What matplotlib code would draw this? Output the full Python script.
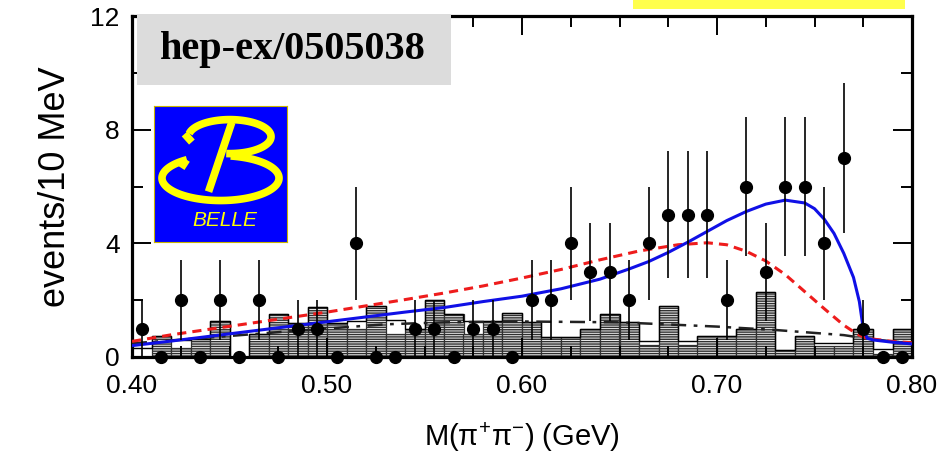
import matplotlib
matplotlib.use('Agg')
import matplotlib.pyplot as plt
from matplotlib.patches import Rectangle
import numpy as np

# --- data (10 MeV bins, 0.40 - 0.80 GeV) ---
bin_edges = np.round(np.arange(0.40, 0.8001, 0.01), 3)
bin_centers = bin_edges[:-1] + 0.005

# events per bin (data points)
counts = [1, 0, 2, 0, 2, 0, 2, 0, 1, 1,
          0, 4, 0, 0, 1, 1, 0, 1, 1, 0,
          2, 2, 4, 3, 3, 2, 4, 5, 5, 5,
          2, 6, 3, 6, 6, 4, 7, 1, 0, 0]

# hatched background histogram
bkg_hist = [0.0, 0.75, 0.3, 0.65, 1.25, 0.0, 0.8, 1.5, 1.2, 1.75,
            1.2, 1.0, 1.8, 0.8, 1.0, 2.0, 1.5, 0.8, 1.25, 1.55,
            1.24, 0.72, 0.72, 1.0, 1.5, 1.24, 0.42, 1.78, 0.42, 0.74,
            0.74, 1.0, 2.28, 0.25, 0.75, 0.4, 0.4, 1.0, 0.12, 1.0]
# open outline histogram (only differs where white boxes show)
outline_hist = [0.3, 0.75, 0.6, 0.65, 1.25, 0.0, 0.8, 1.5, 1.2, 1.75,
                1.2, 1.28, 1.8, 1.3, 1.0, 2.0, 1.5, 1.25, 1.25, 1.55,
                1.24, 0.72, 0.72, 1.0, 1.5, 1.24, 0.55, 1.78, 0.55, 0.74,
                0.74, 1.0, 2.28, 0.25, 0.75, 0.5, 0.5, 1.0, 0.27, 1.0]

# fit curves
blue_x = [0.40, 0.42, 0.44, 0.46, 0.48, 0.50, 0.52, 0.54, 0.56, 0.58, 0.60,
          0.62, 0.64, 0.655, 0.665, 0.675, 0.685, 0.695, 0.705, 0.715, 0.725,
          0.735, 0.745, 0.750, 0.755, 0.760, 0.765, 0.770, 0.773, 0.775,
          0.777, 0.78, 0.79, 0.80]
blue_y = [0.40, 0.56, 0.73, 0.90, 1.07, 1.24, 1.41, 1.58, 1.74, 1.95, 2.14,
          2.40, 2.74, 3.10, 3.36, 3.68, 4.04, 4.42, 4.80, 5.12, 5.38,
          5.52, 5.42, 5.22, 4.85, 4.35, 3.65, 2.8, 1.95, 1.0,
          0.66, 0.6, 0.52, 0.46]

red_x = [0.40, 0.42, 0.44, 0.46, 0.48, 0.50, 0.52, 0.54, 0.56, 0.58, 0.60,
         0.62, 0.64, 0.66, 0.68, 0.695, 0.705, 0.715, 0.725, 0.735, 0.745,
         0.755, 0.765, 0.772, 0.776, 0.78, 0.79, 0.80]
red_y = [0.55, 0.78, 0.98, 1.18, 1.38, 1.58, 1.8, 2.02, 2.25, 2.5, 2.78,
         3.08, 3.42, 3.73, 3.95, 4.02, 3.95, 3.72, 3.38, 2.9, 2.3,
         1.7, 1.12, 0.8, 0.68, 0.63, 0.55, 0.5]

bkg_x = [0.40, 0.45, 0.48, 0.50, 0.53, 0.56, 0.60, 0.65, 0.70, 0.73, 0.765, 0.78, 0.80]
bkg_y = [0.48, 0.74, 0.9, 1.0, 1.15, 1.22, 1.25, 1.22, 1.07, 0.95, 0.77, 0.62, 0.48]

plt.rcParams['font.family'] = ['Liberation Sans', 'DejaVu Sans']
plt.rcParams['hatch.linewidth'] = 1.0

fig = plt.figure(figsize=(9.53, 4.54), dpi=100)
ax = fig.add_axes([132 / 953, 1 - 357 / 454, 780 / 953, 341 / 454])

# histograms
ax.bar(bin_edges[:-1], bkg_hist, width=0.01, align='edge', facecolor='#ececec',
       edgecolor='#303030', hatch='-------', linewidth=0.9, zorder=1)
ax.stairs(outline_hist, bin_edges, color='black', linewidth=1.0, zorder=1.5)

# curves
ax.plot(bkg_x, bkg_y, color='#222222', lw=1.8, dashes=(6, 3, 1.5, 3), zorder=3)
ax.plot(red_x, red_y, color='#ee1c1c', lw=2.2, dashes=(3, 2), zorder=3)
ax.plot(blue_x, blue_y, color='#1010e6', lw=2.2, zorder=3.5)

# data points with sqrt(N) errors
counts = np.array(counts, dtype=float)
err = np.sqrt(counts)
ax.vlines(bin_centers, counts - err, counts + err, color='black', lw=1.2, zorder=4)
ax.plot(bin_centers, counts, 'o', color='black', markersize=8.5, zorder=5, clip_on=False)

ax.set_xlim(0.40, 0.80)
ax.set_ylim(0, 12)
ax.set_xticks([0.40, 0.50, 0.60, 0.70, 0.80])
ax.set_xticklabels(['0.40', '0.50', '0.60', '0.70', '0.80'])
ax.set_xticks(np.arange(0.40, 0.80, 0.025), minor=True)
ax.set_yticks([0, 4, 8, 12])
ax.set_yticks([2, 6, 10], minor=True)
ax.tick_params(which='both', direction='in', top=True, right=True, width=1.4,
               labelsize=19)
ax.tick_params(which='major', length=14)
ax.tick_params(axis='x', which='major', pad=12)
ax.tick_params(axis='y', which='major', pad=9)
ax.tick_params(which='minor', length=8)
for s in ax.spines.values():
    s.set_linewidth(2.3)

ax.set_xlabel(r'M($\mathregular{\pi^{+}\pi^{-}}$) (GeV)', fontsize=21, labelpad=16)
ax.set_ylabel('events/10 MeV', fontsize=26, labelpad=12)

# grey preprint box
fig.patches.append(Rectangle((137 / 953, 1 - 85 / 454), 314 / 953, 71 / 454,
                             transform=fig.transFigure, facecolor='#dcdcdc',
                             edgecolor='none', zorder=5))
fig.text(293 / 953, 1 - 50 / 454, 'hep-ex/0505038', fontsize=29, fontweight='bold',
         family='Liberation Serif', ha='center', va='center', zorder=6)

# yellow strip at the top edge
fig.patches.append(Rectangle((633 / 953, 1 - 9 / 454), 272 / 953, 9 / 454,
                             transform=fig.transFigure, facecolor='#ffff4d',
                             edgecolor='none', zorder=5))

# Belle logo
lg = fig.add_axes([154 / 953, 1 - 242 / 454, 133 / 953, 136 / 454])
lg.set_facecolor('#0000ff')
lg.set_xlim(0, 1)
lg.set_ylim(0, 1)
lg.set_xticks([])
lg.set_yticks([])
for s in lg.spines.values():
    s.set_color('#c8b400')
    s.set_linewidth(0.8)
yel = '#ffff00'
t = np.radians(np.linspace(170, -95, 80))
lg.plot(0.57 + 0.31 * np.cos(t), 0.775 + 0.125 * np.sin(t), color=yel, lw=5.5,
        solid_capstyle='butt')
lg.plot([0.23, 0.285], [0.795, 0.735], color=yel, lw=5.5, solid_capstyle='butt')
t = np.radians(np.linspace(125, 440, 120))
lg.plot(0.5 + 0.44 * np.cos(t), 0.47 + 0.165 * np.sin(t), color=yel, lw=5.5,
        solid_capstyle='butt')
lg.plot([0.245, 0.205], [0.605, 0.545], color=yel, lw=5.5, solid_capstyle='butt')
lg.plot([0.585, 0.41], [0.88, 0.37], color=yel, lw=5.5, solid_capstyle='butt')
lg.text(0.53, 0.155, 'BELLE', color=yel, fontsize=15, fontstyle='italic',
        ha='center', va='center')

fig.savefig('out.png', dpi=100)
